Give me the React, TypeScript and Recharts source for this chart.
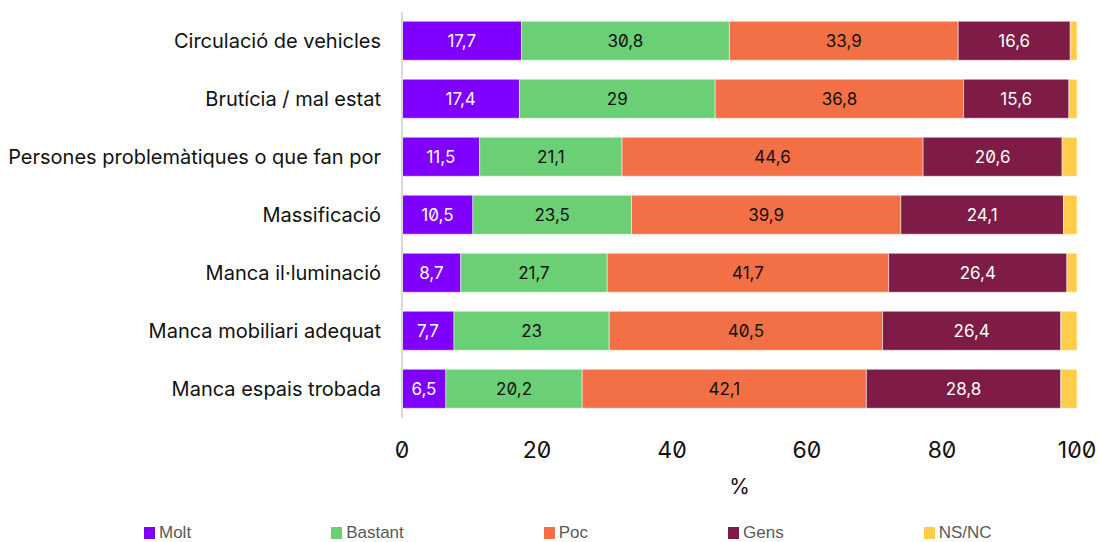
import { BarChart, Bar, XAxis, YAxis, LabelList, Label } from "recharts";

// categories (top to bottom)
const categories = [
  "Circulació de vehicles",
  "Brutícia / mal estat",
  "Persones problemàtiques o que fan por",
  "Massificació",
  "Manca il·luminació",
  "Manca mobiliari adequat",
  "Manca espais trobada",
];

// % per answer
const molt = [17.7, 17.4, 11.5, 10.5, 8.7, 7.7, 6.5];
const bastant = [30.8, 29, 21.1, 23.5, 21.7, 23, 20.2];
const poc = [33.9, 36.8, 44.6, 39.9, 41.7, 40.5, 42.1];
const gens = [16.6, 15.6, 20.6, 24.1, 26.4, 26.4, 28.8];
const nsnc = [1.0, 1.2, 2.2, 2.0, 1.5, 2.4, 2.4];

const xTicks = [0, 20, 40, 60, 80, 100];

const SERIES = [
  { key: "molt", name: "Molt", color: "#8000FF", text: "#ffffff", labels: true },
  { key: "bastant", name: "Bastant", color: "#6BCF76", text: "#111111", labels: true },
  { key: "poc", name: "Poc", color: "#F37047", text: "#111111", labels: true },
  { key: "gens", name: "Gens", color: "#7E1B46", text: "#ffffff", labels: true },
  { key: "nsnc", name: "NS/NC", color: "#FFCD4A", text: "#111111", labels: false },
];

const data = categories.map((c, i) => ({
  name: c,
  molt: molt[i],
  bastant: bastant[i],
  poc: poc[i],
  gens: gens[i],
  nsnc: nsnc[i],
}));

const fmt = (v: any) => String(v).replace(".", ",");

function Legend2() {
  return (
    <div
      style={{
        position: "absolute",
        left: 144,
        top: 525,
        height: 16,
        display: "flex",
        gap: 140,
        fontFamily: "'Liberation Sans Narrow', 'Liberation Sans', sans-serif",
        fontSize: 17,
        lineHeight: "16px",
        color: "#595959",
      }}
    >
      {SERIES.map(s => (
        <div key={s.key} style={{ display: "flex", alignItems: "center" }}>
          <span style={{ width: 11, height: 12, background: s.color, marginRight: 4, display: "inline-block" }} />
          <span>{s.name}</span>
        </div>
      ))}
    </div>
  );
}

export default function App() {
  return (
    <div
      style={{
        position: "absolute",
        left: 0,
        top: 0,
        width: 1099,
        height: 542,
        background: "#fff",
        fontFamily: "Inter, 'Noto Sans', sans-serif",
        fontFeatureSettings: '"zero" 1',
      }}
    >
      <BarChart
        width={1099}
        height={510}
        data={data}
        layout="vertical"
        barCategoryGap="16%"
        margin={{ top: 12, right: 22, bottom: 0, left: 0 }}
      >
        <XAxis
          type="number"
          domain={[0, 100]}
          ticks={xTicks}
          axisLine={false}
          tickLine={false}
          tickMargin={18}
          height={92}
          tick={{ fontSize: 23, fill: "#111" }}
        >
          <Label value="%" position="insideBottom" offset={16} style={{ fontSize: 21, fill: "#111" }} />
        </XAxis>
        <YAxis
          type="category"
          dataKey="name"
          width={402}
          axisLine={{ stroke: "#d9d9d9", strokeWidth: 2 }}
          tickLine={false}
          tickMargin={15}
          tick={{ fontSize: 20, fill: "#111" }}
        />
        {SERIES.map(s => (
          <Bar
            key={s.key}
            dataKey={s.key}
            name={s.name}
            stackId="a"
            fill={s.color}
            stroke="#ffffff"
            strokeOpacity={0.5}
            strokeWidth={1}
            isAnimationActive={false}
          >
            {s.labels && (
              <LabelList
                dataKey={s.key}
                position="center"
                formatter={fmt}
                style={{ fontSize: 17, fill: s.text }}
              />
            )}
          </Bar>
        ))}
      </BarChart>
      <Legend2 />
    </div>
  );
}
